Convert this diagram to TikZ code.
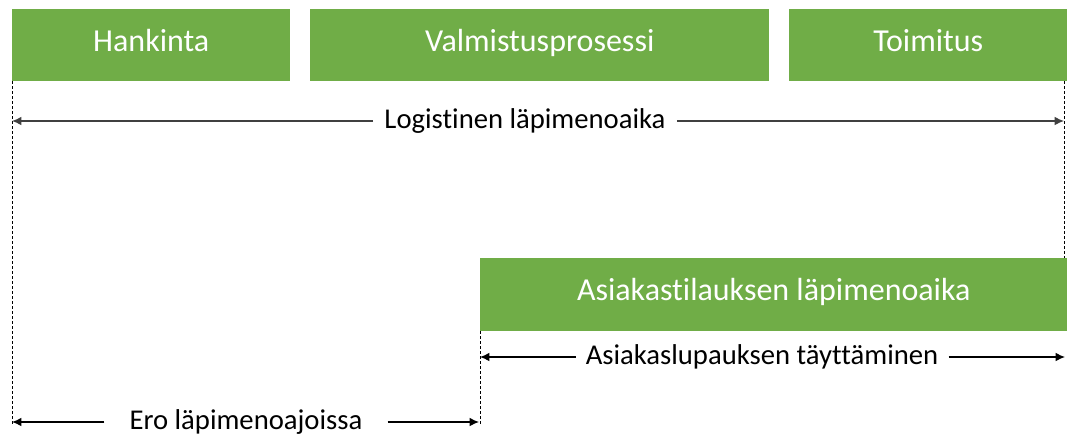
\documentclass[tikz,border=0pt]{standalone}
\usepackage{fontspec}
\setmainfont[Ligatures={NoCommon,NoRare,NoContextual}]{Carlito}
\usetikzlibrary{arrows.meta}
\definecolor{phase}{HTML}{70AD47}
\definecolor{dimline}{HTML}{404040}
\tikzset{
  phasebox/.style={fill=phase, draw=none, text=white, inner sep=0pt,
    font=\fontsize{24}{28}\selectfont, anchor=north west,
    text height=1.1em, text depth=0.2em},
  guide/.style={draw=black, line width=0.7pt, dash pattern=on 2.25pt off 1.5pt},
  span/.style={line width=1pt, -{Latex[length=7pt,width=6.5pt]}},
  spanlabel/.style={font=\fontsize{21.5}{25}\selectfont, inner ysep=0pt}
}
\begin{document}
\begin{tikzpicture}[x=0.75pt,y=-0.75pt]
\useasboundingbox (0,0) rectangle (1069,436);

% process phases
\node[phasebox, minimum width=208.5pt, minimum height=54pt] (hank) at (12,9) {Hankinta};
\node[phasebox, minimum width=344.25pt, minimum height=54pt] (valm) at (310,9) {Valmistusprosessi};
\node[phasebox, minimum width=208.5pt, minimum height=54pt] (toim) at (789,9) {Toimitus};
\node[phasebox, minimum width=440.25pt, minimum height=54.75pt] (asia) at (480,258) {Asiakastilauksen läpimenoaika};

% guide lines
\coordinate (gl) at (12,81);
\coordinate (glb) at (12,426);
\coordinate (gr) at (1064,81);
\coordinate (grb) at (1064,258);
\coordinate (gm) at (480,331);
\coordinate (gmb) at (480,424);
\draw[guide] (gl) -- (glb);
\draw[guide] (gr) -- (grb);
\draw[guide] (gm) -- (gmb);

% logistic lead time
\node[spanlabel, inner xsep=8.25pt] (logi) at (525,121) {Logistinen läpimenoaika};
\coordinate (logiL) at (12,121);
\coordinate (logiR) at (1064,121);
\draw[span, draw=dimline] (logi.west) -- (logiL);
\draw[span, draw=dimline] (logi.east) -- (logiR);

% customer promise
\node[spanlabel, inner xsep=7.5pt] (lupa) at (762,357) {Asiakaslupauksen täyttäminen};
\coordinate (lupaL) at (480,357);
\coordinate (lupaR) at (1065,357);
\draw[span] (lupa.west) -- (lupaL);
\draw[span] (lupa.east) -- (lupaR);

% difference
\node[spanlabel, inner xsep=18.75pt] (ero) at (246,422) {Ero läpimenoajoissa};
\coordinate (eroL) at (12,422);
\coordinate (eroR) at (479,422);
\draw[span] (ero.west) -- (eroL);
\draw[span] (ero.east) -- (eroR);
\end{tikzpicture}
\end{document}
